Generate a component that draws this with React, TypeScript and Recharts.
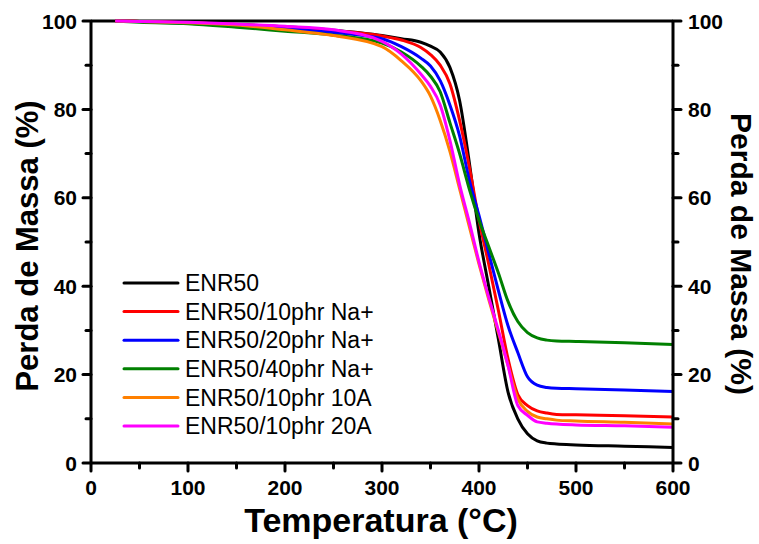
import { LineChart, Line, XAxis, YAxis, ReferenceLine, Legend } from 'recharts';

const temperature = [25, 50, 100, 150, 200, 250, 300, 320, 340, 350, 360, 370, 380, 390, 400, 410, 420, 430, 440, 450, 460, 470, 480, 500, 550, 600];

const enr50 = [100, 99.9, 99.6, 99.2, 98.7, 97.9, 96.7, 96, 95.2, 94.3, 93, 89.5, 82, 68, 52, 40, 28, 16, 10, 6.6, 5, 4.5, 4.3, 4.1, 3.8, 3.5];
const na10 = [100, 99.9, 99.6, 99.2, 98.6, 97.8, 96.6, 95.7, 94, 92.4, 90, 85.8, 77.5, 67, 55, 45, 34.5, 23.5, 15.5, 13, 11.8, 11.3, 11, 10.9, 10.7, 10.4];
const na20 = [100, 99.9, 99.5, 99, 98.3, 97.4, 96, 94.2, 91.6, 89.8, 86.5, 81, 74, 64, 56, 47.5, 39, 31, 25, 19.5, 17.6, 17.1, 16.9, 16.8, 16.5, 16.2];
const na40 = [100, 99.7, 99.4, 98.6, 97.7, 96.8, 95, 93, 89.8, 87.5, 84, 77, 70, 62, 55, 49, 43, 36.5, 32, 29.5, 28.3, 27.8, 27.6, 27.5, 27.2, 26.8];
const a10 = [100, 99.9, 99.6, 99.1, 98, 96.7, 94.2, 91, 86.5, 83, 77.5, 70.5, 62, 53.5, 45, 37, 29.5, 22, 14.5, 11.7, 10.4, 10, 9.7, 9.5, 9.2, 8.8];
const a20 = [100, 99.9, 99.7, 99.3, 98.8, 98, 95.4, 92.5, 88, 85.2, 81, 73, 63, 54.5, 45.5, 37.5, 30, 22, 13, 10.8, 9.3, 9, 8.8, 8.6, 8.4, 8.1];

const seriesNames = ['ENR50', 'ENR50/10phr Na+', 'ENR50/20phr Na+', 'ENR50/40phr Na+', 'ENR50/10phr 10A', 'ENR50/10phr 20A'];
const seriesKeys = ['enr50', 'na10', 'na20', 'na40', 'a10', 'a20'];
const seriesColors = ['#000000', '#ff0000', '#0000ff', '#008000', '#ff8000', '#ff00ff'];
const seriesValues = [enr50, na10, na20, na40, a10, a20];

const xTicks = [0, 50, 100, 150, 200, 250, 300, 350, 400, 450, 500, 550, 600];
const yTicks = [0, 10, 20, 30, 40, 50, 60, 70, 80, 90, 100];

const data = temperature.map((t, i) => {
  const row: Record<string, number> = { t };
  seriesKeys.forEach((k, j) => {
    row[k] = seriesValues[j][i];
  });
  return row;
});

const font = '"Liberation Sans", Arial, sans-serif';

const BottomTick = (props: any) => {
  const { x, y, payload } = props;
  const major = payload.value % 100 === 0;
  return (
    <g>
      <line x1={x} x2={x} y1={y} y2={y + (major ? 8 : 5)} stroke="#000" strokeWidth={3} strokeLinecap="round" />
      {major && (
        <text x={x} y={y + 32} textAnchor="middle" fontSize={21} fontWeight="bold" fontFamily={font} fill="#000">
          {payload.value}
        </text>
      )}
    </g>
  );
};

const LeftTick = (props: any) => {
  const { x, y, payload } = props;
  const major = payload.value % 20 === 0;
  return (
    <g>
      <line x1={x} x2={x - (major ? 8 : 5)} y1={y} y2={y} stroke="#000" strokeWidth={3} strokeLinecap="round" />
      {major && (
        <text x={x - 14} y={y} dy="0.36em" textAnchor="end" fontSize={21} fontWeight="bold" fontFamily={font} fill="#000">
          {payload.value}
        </text>
      )}
    </g>
  );
};

const RightTick = (props: any) => {
  const { x, y, payload } = props;
  const major = payload.value % 20 === 0;
  return (
    <g>
      <line x1={x} x2={x + (major ? 8 : 5)} y1={y} y2={y} stroke="#000" strokeWidth={3} strokeLinecap="round" />
      {major && (
        <text x={x + 15} y={y} dy="0.36em" textAnchor="start" fontSize={21} fontWeight="bold" fontFamily={font} fill="#000">
          {payload.value}
        </text>
      )}
    </g>
  );
};

const renderLegend = (props: any) => {
  const items = [...(props.payload || [])].sort(
    (a: any, b: any) => seriesNames.indexOf(a.value) - seriesNames.indexOf(b.value)
  );
  return (
    <svg width={260} height={175}>
      {items.map((entry: any, i: number) => {
        const cy = 13 + i * 28.6;
        return (
          <g key={entry.value}>
            <line x1={2} x2={56} y1={cy} y2={cy} stroke={entry.color} strokeWidth={3} strokeLinecap="round" />
            <text x={63} y={cy} dy="0.36em" fontSize={23} fontFamily={font} fill="#000">
              {entry.value}
            </text>
          </g>
        );
      })}
    </svg>
  );
};

export default function App() {
  return (
    <div style={{ position: 'absolute', left: 0, top: 0, background: '#fff' }}>
      <LineChart width={759} height={544} data={data} margin={{ top: 21, right: 0, bottom: 0, left: 0 }}>
        <XAxis
          dataKey="t"
          type="number"
          domain={[0, 600]}
          ticks={xTicks}
          interval={0}
          height={81}
          tickSize={0}
          tickMargin={0}
          tickLine={false}
          tick={<BottomTick />}
          axisLine={{ stroke: '#000', strokeWidth: 3 }}
          label={() => (
            <text x={381} y={532} textAnchor="middle" fontSize={34} fontWeight="bold" fontFamily={font} fill="#000">
              Temperatura (°C)
            </text>
          )}
        />
        <YAxis
          yAxisId="left"
          domain={[0, 100]}
          ticks={yTicks}
          interval={0}
          width={91}
          tickSize={0}
          tickMargin={0}
          tickLine={false}
          tick={<LeftTick />}
          axisLine={{ stroke: '#000', strokeWidth: 3 }}
          label={() => (
            <text
              x={27}
              y={246}
              transform="rotate(-90 27 246)"
              dy="0.36em"
              textAnchor="middle"
              fontSize={31}
              fontWeight="bold"
              fontFamily={font}
              fill="#000"
            >
              Perda de Massa (%)
            </text>
          )}
        />
        <YAxis
          yAxisId="right"
          orientation="right"
          domain={[0, 100]}
          ticks={yTicks}
          interval={0}
          width={86}
          tickSize={0}
          tickMargin={0}
          tickLine={false}
          tick={<RightTick />}
          axisLine={{ stroke: '#000', strokeWidth: 3 }}
          label={() => (
            <text
              x={742}
              y={254}
              transform="rotate(90 742 254)"
              dy="0.36em"
              textAnchor="middle"
              fontSize={30}
              fontWeight="bold"
              fontFamily={font}
              fill="#000"
            >
              Perda de Massa (%)
            </text>
          )}
        />
        <ReferenceLine yAxisId="left" y={100} stroke="#000" strokeWidth={3} />
        {seriesKeys.map((k, j) => (
          <Line
            key={k}
            yAxisId={j === seriesKeys.length - 1 ? 'right' : 'left'}
            type="monotone"
            dataKey={k}
            name={seriesNames[j]}
            stroke={seriesColors[j]}
            strokeWidth={3}
            dot={false}
            activeDot={false}
            isAnimationActive={false}
          />
        ))}
        <Legend
          layout="vertical"
          align="center"
          verticalAlign="middle"
          content={renderLegend}
          wrapperStyle={{ left: 122, top: 270, width: 260, height: 175 }}
        />
      </LineChart>
    </div>
  );
}
